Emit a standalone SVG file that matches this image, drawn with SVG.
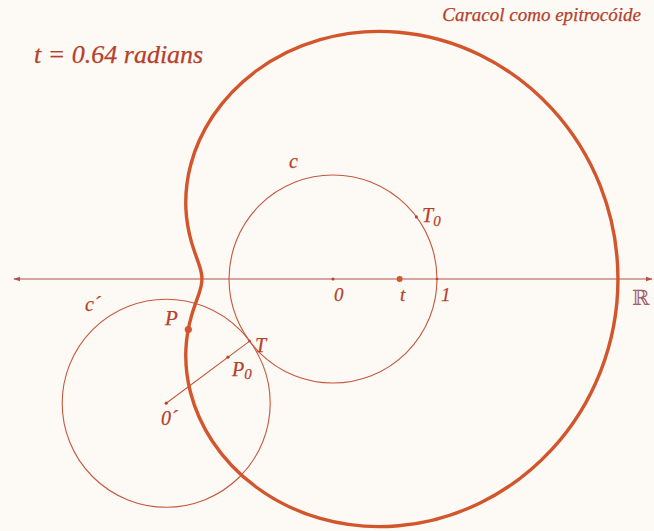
<svg xmlns="http://www.w3.org/2000/svg" width="654" height="531" viewBox="0 0 654 531">
<defs>
<style>
.lbl{font-family:"Liberation Serif","DejaVu Serif",serif;font-style:italic;fill:#b5412a;stroke:#b5412a;stroke-width:0.25;}
.thin{fill:none;stroke:#c4583f;stroke-width:1.1;}
.curve{fill:none;stroke:#d2552b;stroke-width:3.4;stroke-linejoin:round;}
.axis{fill:none;stroke:#b0524a;stroke-width:1.2;}
.dot{fill:#b9472c;}
.bigdot{fill:#d2552b;}
</style>
<marker id="ah" viewBox="0 0 10 10" refX="9" refY="5" markerWidth="7" markerHeight="7" orient="auto-start-reverse" markerUnits="userSpaceOnUse">
<path d="M0,1.5 L10,5 L0,8.5 Z" fill="#b0524a"/>
</marker>
</defs>
<rect width="654" height="531" fill="#fdf9f5"/>

<g id="connectors">
<line id="axis" class="axis" x1="14" y1="279" x2="652" y2="279" marker-start="url(#ah)" marker-end="url(#ah)"/>
<line id="radius" class="thin" x1="166.2" y1="403.2" x2="249.6" y2="341.1"/>
</g>

<g id="circle-c"><circle class="thin" cx="333" cy="279" r="104"/></g>
<g id="circle-c-prime"><circle class="thin" cx="166.2" cy="403.2" r="104"/></g>

<g id="caracol">
<path class="curve" d="M 617.96 279
C 617.96 247.42, 611.98 215.86, 600.57 186.69
C 589.16 157.52, 572.33 130.79, 551.62 108.35
C 530.91 85.91, 506.35 67.80, 480.08 54.96
C 453.81 42.12, 425.87 34.57, 398.52 32.21
C 371.17 29.85, 344.43 32.67, 320.18 39.60
C 295.93 46.53, 274.19 57.57, 256.04 71
C 237.89 84.43, 223.34 100.23, 212.52 116.56
C 201.70 132.89, 194.61 149.73, 190.52 165.52
C 186.43 181.31, 185.32 196.04, 185.92 208.88
C 186.52 221.72, 188.78 232.65, 191.34 241.65
C 193.90 250.65, 196.72 257.75, 198.74 263.65
C 200.76 269.55, 201.96 274.28, 201.96 279
C 201.96 283.72, 200.76 288.45, 198.74 294.35
C 196.72 300.25, 193.90 307.35, 191.34 316.35
C 188.78 325.35, 186.52 336.28, 185.92 349.12
C 185.32 361.96, 186.43 376.69, 190.52 392.48
C 194.61 408.27, 201.70 425.11, 212.52 441.44
C 223.34 457.77, 237.89 473.57, 256.04 487
C 274.19 500.43, 295.93 511.47, 320.18 518.40
C 344.43 525.33, 371.17 528.15, 398.52 525.79
C 425.87 523.43, 453.81 515.88, 480.08 503.04
C 506.35 490.20, 530.91 472.09, 551.62 449.65
C 572.33 427.21, 589.16 400.48, 600.57 371.31
C 611.98 342.14, 617.96 310.58, 617.96 279 Z"/>
</g>

<g id="origin"><circle class="dot" cx="333" cy="279" r="1.6"/><text class="lbl" x="334" y="301" font-size="19">0</text></g>
<g id="point-t"><circle class="bigdot" cx="399.6" cy="279" r="3"/><text class="lbl" x="400" y="301" font-size="19">t</text></g>
<g id="point-1"><circle class="dot" cx="437" cy="279" r="1.3"/><text class="lbl" x="441" y="301" font-size="19">1</text></g>
<g id="point-T0"><circle class="dot" cx="416.4" cy="216.9" r="1.6"/><text class="lbl" x="422" y="222" font-size="20">T<tspan font-size="15" dy="4">0</tspan></text></g>
<g id="point-T"><circle class="dot" cx="249.6" cy="341.1" r="1.4"/><text class="lbl" x="255" y="352" font-size="20">T</text></g>
<g id="point-P0"><circle class="dot" cx="227.9" cy="357.2" r="1.6"/><text class="lbl" x="232" y="376" font-size="20">P<tspan font-size="15" dy="3">0</tspan></text></g>
<g id="point-P"><circle class="bigdot" cx="188.3" cy="329.5" r="3.6"/><text class="lbl" x="165" y="325" font-size="21">P</text></g>
<g id="center-0prime"><circle class="dot" cx="166.2" cy="403.2" r="1.6"/><text class="lbl" x="161" y="425" font-size="20">0´</text></g>
<g id="label-c"><text class="lbl" x="289" y="168" font-size="20">c</text></g>
<g id="label-c-prime"><text class="lbl" x="85" y="311" font-size="20">c´</text></g>
<g id="label-R"><text x="632" y="305" font-size="21" font-family="DejaVu Serif, serif" fill="#a0606a">ℝ</text></g>
<g id="title"><text class="lbl" x="34" y="63" font-size="26">t = 0.64 radians</text></g>
<g id="caption"><text class="lbl" x="641" y="21" font-size="19" text-anchor="end">Caracol como epitrocóide</text></g>
</svg>
